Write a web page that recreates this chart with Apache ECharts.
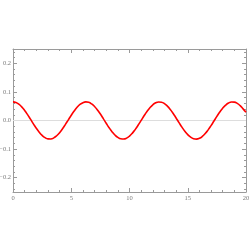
<!DOCTYPE html>
<html><head><meta charset="utf-8">
<script src="https://cdn.jsdelivr.net/npm/echarts@6/dist/echarts.min.js"></script>
<style>html,body{margin:0;padding:0;background:#fff}#c{width:250px;height:250px}</style>
</head><body><div id="c"></div>
<script>
var xValues = [0,0.25,0.5,0.75,1,1.25,1.5,1.75,2,2.25,2.5,2.75,3,3.25,3.5,3.75,4,4.25,4.5,4.75,5,5.25,5.5,5.75,6,6.25,6.5,6.75,7,7.25,7.5,7.75,8,8.25,8.5,8.75,9,9.25,9.5,9.75,10,10.25,10.5,10.75,11,11.25,11.5,11.75,12,12.25,12.5,12.75,13,13.25,13.5,13.75,14,14.25,14.5,14.75,15,15.25,15.5,15.75,16,16.25,16.5,16.75,17,17.25,17.5,17.75,18,18.25,18.5,18.75,19,19.25,19.5,19.75,20];
var yValues = [0.065,0.0630,0.0570,0.0476,0.0351,0.0205,0.0046,-0.0116,-0.0271,-0.0408,-0.0521,-0.0601,-0.0643,-0.0646,-0.0609,-0.0533,-0.0425,-0.0290,-0.0137,0.0024,0.0184,0.0333,0.0461,0.0560,0.0624,0.0650,0.0635,0.0580,0.0490,0.0369,0.0225,0.0067,-0.0095,-0.0252,-0.0391,-0.0508,-0.0592,-0.0640,-0.0648,-0.0616,-0.0545,-0.0442,-0.0310,-0.0159,0.0003,0.0164,0.0314,0.0446,0.0549,0.0618,0.0649,0.0640,0.0590,0.0504,0.0387,0.0247,0.0089,-0.0073,-0.0231,-0.0374,-0.0494,-0.0583,-0.0635,-0.0650,-0.0623,-0.0557,-0.0457,-0.0328,-0.0179,-0.0019,0.0143,0.0296,0.0429,0.0536,0.0610,0.0646,0.0643,0.0600,0.0519,0.0406,0.0290];
var yMajorTicks = [-0.2,-0.1,0,0.1,0.2];
var yMinorTicks = [-0.24,-0.22,-0.18,-0.16,-0.14,-0.12,-0.08,-0.06,-0.04,-0.02,0.02,0.04,0.06,0.08,0.12,0.14,0.16,0.18,0.22,0.24];
var zeroLineX = [0,20];

var frameColor = '#9a9a9a';
var labelColor = '#7a7a7a';
var fontFam = 'Liberation Serif, DejaVu Serif, serif';

function yFmt(v){
  var s = Math.abs(v).toFixed(1);
  return (v < -1e-9 ? '\u2212' : '') + s;
}
function xAx(pos, showLabel){
  return {
    type:'value', position:pos, min:0, max:20, interval:5,
    axisLine:{show:true, onZero:false, lineStyle:{color:frameColor, width:1}},
    axisTick:{show:true, inside:true, length:4, lineStyle:{color:frameColor}},
    minorTick:{show:true, splitNumber:5, length:2, lineStyle:{color:frameColor}},
    axisLabel:{show:showLabel, color:labelColor, fontSize:6.5, fontFamily:fontFam, margin:3},
    splitLine:{show:false}, minorSplitLine:{show:false}
  };
}
function yAx(pos, showLabel, major){
  return {
    type:'value', position:pos, min:-0.25, max:0.25,
    axisLine:{show:major, onZero:false, lineStyle:{color:frameColor, width:1}},
    axisTick:{show:true, inside:true, length: major?4:2, customValues: major?yMajorTicks:yMinorTicks, lineStyle:{color:frameColor}},
    axisLabel:{show:showLabel, customValues: yMajorTicks, formatter:yFmt, color:labelColor, fontSize:6.5, fontFamily:fontFam, margin:2},
    splitLine:{show:false}
  };
}
var chart = echarts.init(document.getElementById('c'), null, {renderer:'canvas'});
chart.setOption({
  animation:false,
  backgroundColor:'#fff',
  grid:{left:13, right:4, top:49, bottom:58, containLabel:false, outerBoundsMode:'none'},
  xAxis:[xAx('bottom', true), xAx('top', false)],
  yAxis:[yAx('left', true, true), yAx('right', false, true), yAx('left', false, false), yAx('right', false, false)],
  series:[{
    type:'line', xAxisIndex:0, yAxisIndex:0,
    data: zeroLineX.map(function(x){return [x, 0];}),
    showSymbol:false, silent:true,
    lineStyle:{color:'#dddddd', width:1}, z:1
  },{
    type:'line', xAxisIndex:0, yAxisIndex:0,
    data: xValues.map(function(x,i){return [x, yValues[i]];}),
    showSymbol:false, smooth:true,
    lineStyle:{color:'#ff0000', width:1.6},
    z:3
  }]
});
</script></body></html>
